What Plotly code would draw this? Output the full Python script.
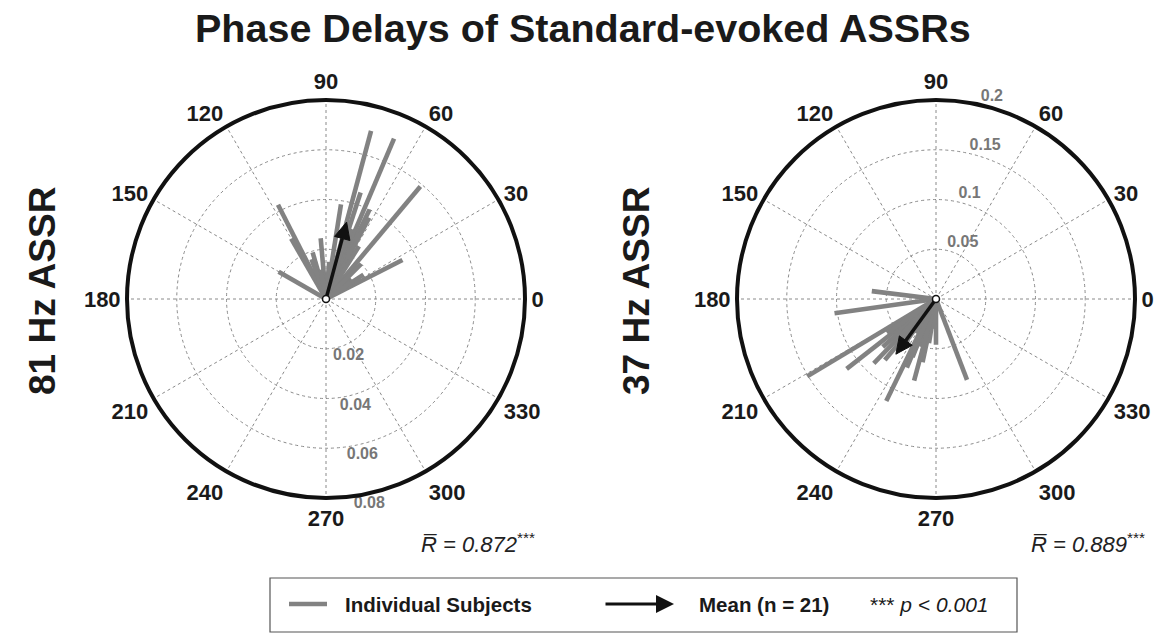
import math
import plotly.graph_objects as go

W, H = 1166, 637

# ---------------- data ----------------
theta_81 = [75, 67, 50, 117, 81, 64, 62, 27, 150, 95, 106, 120, 39, 70, 110, 85, 58, 45, 100, 33, 72]
r_81 = [0.070, 0.070, 0.059, 0.0425, 0.0385, 0.040, 0.037, 0.0345, 0.022, 0.0245, 0.0195,
        0.028, 0.013, 0.030, 0.017, 0.015, 0.025, 0.020, 0.012, 0.018, 0.045]
mean_81 = (75, 0.032)
R_81 = "0.872"

theta_37 = [173, 188, 211, 218, 244, 270, 258, 291, 248, 222, 261, 230, 235, 252, 226, 240, 265, 215, 255, 232, 247]
r_37 = [0.065, 0.103, 0.151, 0.114, 0.114, 0.046, 0.065, 0.087, 0.063, 0.072, 0.045, 0.080,
        0.055, 0.050, 0.090, 0.040, 0.030, 0.060, 0.085, 0.035, 0.075]
mean_37 = (234, 0.0686)
R_37 = "0.889"

angle_ticks = list(range(0, 360, 30))
rticks_81 = [0.02, 0.04, 0.06, 0.08]
rticks_37 = [0.05, 0.1, 0.15, 0.2]

GRAY = "#828282"
FONT = "Liberation Sans, Arial, sans-serif"


def px(x):
    return x / W


def py(y):
    return 1 - y / H


fig = go.Figure()


def add_panel(sub, thetas, rs, mean, rmax, rticks, label_theta, label_pos):
    for t, r in zip(thetas, rs):
        fig.add_trace(go.Scatterpolar(r=[0, r], theta=[t, t], mode="lines",
                                      line=dict(color=GRAY, width=4.6), subplot=sub,
                                      showlegend=False, hoverinfo="skip"))
    mt, mr = mean
    a = math.radians(mt)
    ux, uy = math.cos(a), math.sin(a)
    nx, ny = -uy, ux
    L = 0.085 * rmax
    Wd = 0.04 * rmax
    tipx, tipy = mr * ux, mr * uy
    bx, by = tipx - L * ux, tipy - L * uy
    pts = [(tipx, tipy), (bx + Wd * nx, by + Wd * ny), (bx - Wd * nx, by - Wd * ny), (tipx, tipy)]
    rr = [math.hypot(x, y) for x, y in pts]
    tt = [math.degrees(math.atan2(y, x)) for x, y in pts]
    fig.add_trace(go.Scatterpolar(r=[0, math.hypot(bx, by)], theta=[mt, mt], mode="lines",
                                  line=dict(color="#111111", width=3.5), subplot=sub,
                                  showlegend=False, hoverinfo="skip"))
    fig.add_trace(go.Scatterpolar(r=rr, theta=tt, mode="lines", fill="toself",
                                  fillcolor="#111111", line=dict(color="#111111", width=1),
                                  subplot=sub, showlegend=False, hoverinfo="skip"))
    fig.add_trace(go.Scatterpolar(r=[0], theta=[0], mode="markers",
                                  marker=dict(size=7, color="white",
                                              line=dict(color="#111111", width=1.5)),
                                  subplot=sub, showlegend=False, hoverinfo="skip"))
    # radial tick labels
    fig.add_trace(go.Scatterpolar(r=rticks, theta=[label_theta] * len(rticks), mode="text",
                                  text=[f"<b>{v:g}</b>" for v in rticks],
                                  textposition=label_pos, cliponaxis=False,
                                  textfont=dict(family=FONT, size=16, color="#777777"),
                                  subplot=sub, showlegend=False, hoverinfo="skip"))


add_panel("polar", theta_81, r_81, mean_81, 0.08, rticks_81, -82, "bottom right")
add_panel("polar2", theta_37, r_37, mean_37, 0.2, rticks_37, 77, "top right")


def polar_layout(xdom, ydom, rmax, rticks):
    return dict(
        domain=dict(x=xdom, y=ydom),
        bgcolor="white",
        angularaxis=dict(
            rotation=0, direction="counterclockwise",
            tickvals=angle_ticks, ticktext=[f"<b>{v}</b>" for v in angle_ticks],
            tickfont=dict(family=FONT, size=22, color="#1a1a1a"),
            showline=True, linecolor="#111111", linewidth=4,
            ticks="", showgrid=True, gridcolor="#8a8a8a", gridwidth=1, griddash="dot",
        ),
        radialaxis=dict(
            range=[0, rmax], tickvals=rticks, showticklabels=False,
            showline=False, ticks="",
            showgrid=True, gridcolor="#8a8a8a", gridwidth=1, griddash="dot",
        ),
    )


fig.update_layout(
    width=W, height=H,
    margin=dict(l=0, r=0, t=0, b=0),
    paper_bgcolor="white",
    plot_bgcolor="white",
    font=dict(family=FONT),
    polar=polar_layout([px(127), px(525)], [py(498), py(100)], 0.08, rticks_81),
    polar2=polar_layout([px(737), px(1135)], [py(498), py(100)], 0.2, rticks_37),
    showlegend=False,
)


def txt(x, y, text, size, xanchor="center", **kw):
    return dict(x=px(x), y=py(y), xref="paper", yref="paper", showarrow=False,
                xanchor=xanchor, yanchor="middle", text=text,
                font=dict(family=FONT, size=size, color=kw.pop("color", "#1a1a1a")), **kw)


ann = [
    txt(583, 28, "<b>Phase Delays of Standard-evoked ASSRs</b>", 39.5),
    txt(42, 291, "<b>81 Hz ASSR</b>", 37, textangle=-90),
    txt(636, 291, "<b>37 Hz ASSR</b>", 37, textangle=-90),
]
for xc, rv in [(537, R_81), (1147, R_37)]:
    ann.append(txt(xc, 543, f"<i>R\u0305 = {rv}</i><sup>***</sup>", 22,
                   xanchor="right", color="#222222"))

# legend
ann.append(txt(343, 604, "<b>Individual Subjects</b>", 20.5, xanchor="left"))
ann.append(txt(697, 604, "<b>Mean (n = 21)</b>", 20.5, xanchor="left"))
ann.append(txt(868, 604, "*** <i>p &lt; 0.001</i>", 21, xanchor="left"))
ann.append(dict(x=px(674), y=py(604), xref="paper", yref="paper", showarrow=True,
                ax=-70, ay=0, axref="pixel", ayref="pixel", text="",
                arrowhead=2, arrowsize=1.2, arrowwidth=3, arrowcolor="#111111"))
fig.update_layout(annotations=ann)

fig.add_shape(type="rect", xref="paper", yref="paper",
              x0=px(270), x1=px(1017), y0=py(632), y1=py(578),
              line=dict(color="#555555", width=1.2), fillcolor="rgba(0,0,0,0)")
fig.add_shape(type="line", xref="paper", yref="paper",
              x0=px(289), x1=px(327), y0=py(604), y1=py(604),
              line=dict(color=GRAY, width=4.6))

fig.write_html("out.html")
